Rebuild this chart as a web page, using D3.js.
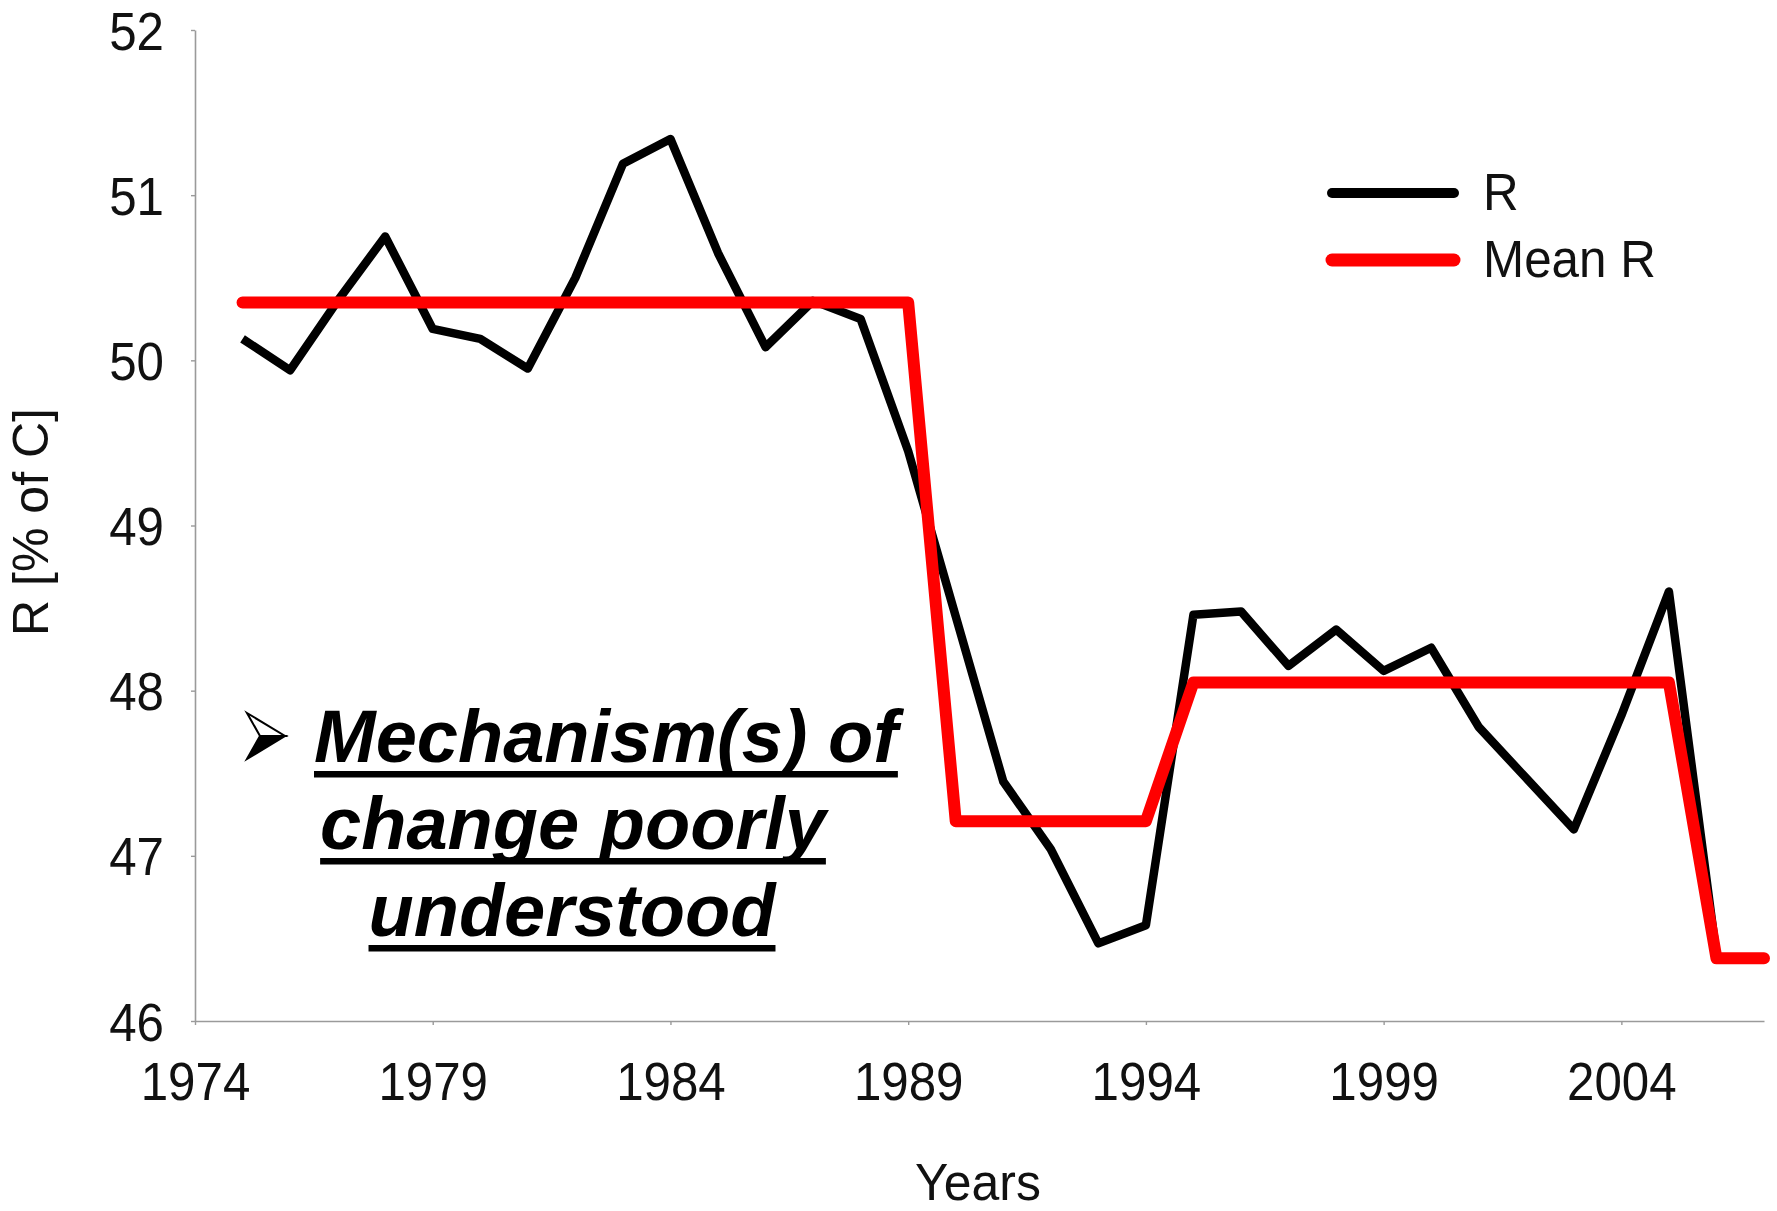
<!DOCTYPE html>
<html>
<head>
<meta charset="utf-8">
<script src="https://cdn.jsdelivr.net/npm/d3@7/dist/d3.min.js"></script>
<style>
  body { margin: 0; background: #fff; }
  svg { display: block; }
</style>
</head>
<body>
<div id="chart"></div>
<script>
// values
const rYears = [1975, 1976, 1977, 1978, 1979, 1980, 1981, 1982, 1983, 1984, 1985, 1986, 1987, 1988,
  1989, 1990, 1991, 1992, 1993, 1994, 1995, 1996, 1997, 1998, 1999, 2000, 2001, 2002, 2003, 2004, 2005, 2006];
const rValues = [50.13, 49.94, 50.36, 50.75, 50.19, 50.13, 49.95, 50.5, 51.19, 51.34, 50.65, 50.08, 50.36, 50.25,
  49.45, 48.45, 47.45, 47.04, 46.47, 46.58, 48.46, 48.48, 48.15, 48.37, 48.12, 48.26, 47.78, 47.47, 47.16, 47.85, 48.6, 46.4];

const meanYears = [1975, 1976, 1977, 1978, 1979, 1980, 1981, 1982, 1983, 1984, 1985, 1986, 1987, 1988,
  1989, 1990, 1991, 1992, 1993, 1994, 1995, 1996, 1997, 1998, 1999, 2000, 2001, 2002, 2003, 2004, 2005, 2006, 2007];
const meanValues = [50.35, 50.35, 50.35, 50.35, 50.35, 50.35, 50.35, 50.35, 50.35, 50.35, 50.35, 50.35, 50.35, 50.35,
  50.35, 47.21, 47.21, 47.21, 47.21, 47.21, 48.05, 48.05, 48.05, 48.05, 48.05, 48.05, 48.05, 48.05, 48.05, 48.05, 48.05,
  46.38, 46.38];

const xTickValues = [1974, 1979, 1984, 1989, 1994, 1999, 2004];
const yTickValues = [46, 47, 48, 49, 50, 51, 52];
const xDomain = [1974, 2007];
const yDomain = [46, 52];

const legendLabels = ['R', 'Mean R'];
const noteLines = ['Mechanism(s) of', 'change poorly', 'understood'];

function renderChart() {
  const width = 1777;
  const height = 1211;
  const margin = { top: 30, right: 13, bottom: 190, left: 195 };
  const font = '"Liberation Sans", Arial, sans-serif';
  const squeeze = 0.93;

  const x = d3.scaleLinear()
    .domain(xDomain)
    .range([margin.left, width - margin.right]);

  const y = d3.scaleLinear()
    .domain(yDomain)
    .range([height - margin.bottom, margin.top]);

  const svg = d3.select('#chart')
    .append('svg')
    .attr('width', width)
    .attr('height', height)
    .attr('viewBox', [0, 0, width, height]);

  const yAxis = g => g
    .attr('transform', `translate(${margin.left},0)`)
    .call(d3.axisLeft(y)
      .tickValues(yTickValues)
      .tickFormat(d3.format('d'))
      .tickSize(4)
      .tickSizeOuter(0))
    .call(g => g.select('.domain').attr('stroke', '#9a9a9a').attr('stroke-width', 1.6))
    .call(g => g.selectAll('.tick line').attr('stroke', '#9a9a9a').attr('stroke-width', 1.4))
    .call(g => g.selectAll('.tick text')
      .attr('font-family', font)
      .attr('font-size', 53)
      .attr('fill', '#111')
      .attr('x', -31 / squeeze)
      .attr('dy', '0.36em')
      .attr('transform', `scale(${squeeze},1)`));

  const xAxis = g => g
    .attr('transform', `translate(0,${height - margin.bottom})`)
    .call(d3.axisBottom(x)
      .tickValues(xTickValues)
      .tickFormat(d3.format('d'))
      .tickSize(4)
      .tickSizeOuter(0))
    .call(g => g.select('.domain').attr('stroke', '#9a9a9a').attr('stroke-width', 1.6))
    .call(g => g.selectAll('.tick line').attr('stroke', '#9a9a9a').attr('stroke-width', 1.4))
    .call(g => g.selectAll('.tick text')
      .attr('font-family', font)
      .attr('font-size', 53)
      .attr('fill', '#111')
      .attr('y', 79)
      .attr('dy', 0)
      .attr('transform', `scale(${squeeze},1)`));

  svg.append('g').call(xAxis);
  svg.append('g').call(yAxis);

  // axis titles
  svg.append('text')
    .attr('transform', `translate(978,1200) scale(0.96,1)`)
    .attr('text-anchor', 'middle')
    .attr('font-family', font)
    .attr('font-size', 52)
    .attr('fill', '#111')
    .text('Years');

  svg.append('text')
    .attr('transform', 'translate(48,522) rotate(-90)')
    .attr('text-anchor', 'middle')
    .attr('font-family', font)
    .attr('font-size', 50)
    .attr('fill', '#111')
    .text('R [% of C]');

  const line = d3.line()
    .x(d => x(d[0]))
    .y(d => y(d[1]));

  svg.append('path')
    .datum(d3.zip(rYears, rValues))
    .attr('fill', 'none')
    .attr('stroke', '#000')
    .attr('stroke-width', 8.5)
    .attr('stroke-linejoin', 'round')
    .attr('d', line);

  svg.append('path')
    .datum(d3.zip(meanYears, meanValues))
    .attr('fill', 'none')
    .attr('stroke', '#ff0000')
    .attr('stroke-width', 12)
    .attr('stroke-linejoin', 'round')
    .attr('stroke-linecap', 'round')
    .attr('d', line);

  // legend
  const legend = svg.append('g')
    .selectAll('g')
    .data(legendLabels)
    .join('g')
    .attr('transform', (d, i) => `translate(1332,${193 + i * 67})`);

  legend.append('line')
    .attr('x1', 0)
    .attr('x2', 122)
    .attr('stroke', (d, i) => i === 0 ? '#000' : '#ff0000')
    .attr('stroke-width', (d, i) => i === 0 ? 10 : 13)
    .attr('stroke-linecap', 'round');

  legend.append('text')
    .attr('transform', `translate(151,17) scale(0.95,1)`)
    .attr('font-family', font)
    .attr('font-size', 52)
    .attr('fill', '#111')
    .text(d => d);

  // annotation
  const note = svg.append('g')
    .attr('font-family', font)
    .attr('font-size', 74)
    .attr('font-weight', 'bold')
    .attr('font-style', 'italic')
    .attr('fill', '#000');

  // arrowhead bullet, drawn like the 3-D wingdings glyph
  const bullet = note.append('g')
    .attr('transform', 'translate(247,713)');
  bullet.append('path')
    .attr('d', 'M0,0 L38,23 L13,23 Z')
    .attr('fill', '#fff')
    .attr('stroke', '#000')
    .attr('stroke-width', 2)
    .attr('stroke-linejoin', 'miter');
  bullet.append('path')
    .attr('d', 'M13,23 L38,23 L0,46 Z')
    .attr('fill', '#000')
    .attr('stroke', '#000')
    .attr('stroke-width', 2);

  const lineSpots = [
    { x: 314, y: 762, anchor: 'start' },
    { x: 573, y: 849, anchor: 'middle' },
    { x: 572, y: 936, anchor: 'middle' }
  ];

  noteLines.forEach((txt, i) => {
    const spot = lineSpots[i];
    const t = note.append('text')
      .attr('x', spot.x)
      .attr('y', spot.y)
      .attr('text-anchor', spot.anchor)
      .text(txt);
    const len = t.node().getComputedTextLength();
    const left = spot.anchor === 'middle' ? spot.x - len / 2 : spot.x;
    note.append('rect')
      .attr('x', left)
      .attr('y', spot.y + 9)
      .attr('width', len)
      .attr('height', 6.5);
  });
}

renderChart();
</script>
</body>
</html>
